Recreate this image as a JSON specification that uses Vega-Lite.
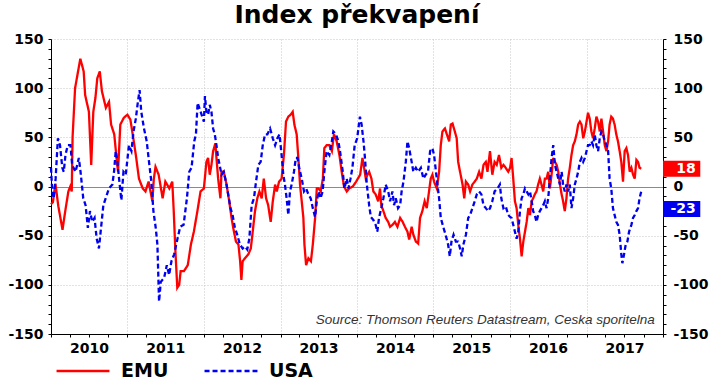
{
  "$schema": "https://vega.github.io/schema/vega-lite/v6.json",
  "width": 612,
  "height": 295,
  "autosize": {"type": "none"},
  "padding": {"left": 51, "top": 39, "right": 51, "bottom": 53},
  "background": "white",
  "title": {"text": "Index překvapení", "font": "DejaVu Sans", "fontSize": 25, "fontWeight": "bold", "color": "black", "anchor": "middle", "frame": "group", "baseline": "alphabetic", "offset": -16},
  "config": {"view": {"stroke": null}, "font": "DejaVu Sans"},
  "datasets": {
    "series": [
      {"date": "2010-01-01", "series": "EMU", "value": -18},
      {"date": "2010-01-10", "series": "EMU", "value": -16},
      {"date": "2010-01-22", "series": "EMU", "value": 3},
      {"date": "2010-02-05", "series": "EMU", "value": -20},
      {"date": "2010-02-25", "series": "EMU", "value": -44},
      {"date": "2010-03-10", "series": "EMU", "value": -25},
      {"date": "2010-03-25", "series": "EMU", "value": -5},
      {"date": "2010-04-03", "series": "EMU", "value": 0},
      {"date": "2010-04-10", "series": "EMU", "value": -5},
      {"date": "2010-04-14", "series": "EMU", "value": 50},
      {"date": "2010-04-26", "series": "EMU", "value": 100},
      {"date": "2010-05-21", "series": "EMU", "value": 130},
      {"date": "2010-06-06", "series": "EMU", "value": 117},
      {"date": "2010-06-13", "series": "EMU", "value": 93},
      {"date": "2010-07-01", "series": "EMU", "value": 76},
      {"date": "2010-07-12", "series": "EMU", "value": 22},
      {"date": "2010-07-22", "series": "EMU", "value": 76},
      {"date": "2010-08-01", "series": "EMU", "value": 90},
      {"date": "2010-08-10", "series": "EMU", "value": 110},
      {"date": "2010-08-22", "series": "EMU", "value": 117},
      {"date": "2010-09-01", "series": "EMU", "value": 97},
      {"date": "2010-09-20", "series": "EMU", "value": 80},
      {"date": "2010-10-05", "series": "EMU", "value": 86},
      {"date": "2010-10-15", "series": "EMU", "value": 63},
      {"date": "2010-10-30", "series": "EMU", "value": 53},
      {"date": "2010-11-10", "series": "EMU", "value": 29},
      {"date": "2010-11-17", "series": "EMU", "value": 15},
      {"date": "2010-11-28", "series": "EMU", "value": 63},
      {"date": "2010-12-15", "series": "EMU", "value": 70},
      {"date": "2011-01-01", "series": "EMU", "value": 73},
      {"date": "2011-01-15", "series": "EMU", "value": 68},
      {"date": "2011-01-24", "series": "EMU", "value": 56},
      {"date": "2011-02-10", "series": "EMU", "value": 32},
      {"date": "2011-02-25", "series": "EMU", "value": 8},
      {"date": "2011-03-15", "series": "EMU", "value": -2},
      {"date": "2011-03-28", "series": "EMU", "value": -5},
      {"date": "2011-04-12", "series": "EMU", "value": 5},
      {"date": "2011-04-30", "series": "EMU", "value": -15},
      {"date": "2011-05-07", "series": "EMU", "value": 8},
      {"date": "2011-05-15", "series": "EMU", "value": 20},
      {"date": "2011-05-30", "series": "EMU", "value": 12},
      {"date": "2011-06-18", "series": "EMU", "value": -12},
      {"date": "2011-07-01", "series": "EMU", "value": 5},
      {"date": "2011-07-20", "series": "EMU", "value": -2},
      {"date": "2011-08-03", "series": "EMU", "value": 5},
      {"date": "2011-08-10", "series": "EMU", "value": -25},
      {"date": "2011-08-18", "series": "EMU", "value": -66},
      {"date": "2011-08-27", "series": "EMU", "value": -103},
      {"date": "2011-09-05", "series": "EMU", "value": -100},
      {"date": "2011-09-12", "series": "EMU", "value": -86},
      {"date": "2011-09-28", "series": "EMU", "value": -86},
      {"date": "2011-10-16", "series": "EMU", "value": -80},
      {"date": "2011-10-31", "series": "EMU", "value": -59},
      {"date": "2011-11-14", "series": "EMU", "value": -46},
      {"date": "2011-12-01", "series": "EMU", "value": -25},
      {"date": "2011-12-16", "series": "EMU", "value": -5},
      {"date": "2012-01-01", "series": "EMU", "value": -2},
      {"date": "2012-01-13", "series": "EMU", "value": 25},
      {"date": "2012-01-21", "series": "EMU", "value": 29},
      {"date": "2012-01-29", "series": "EMU", "value": 12},
      {"date": "2012-02-06", "series": "EMU", "value": 22},
      {"date": "2012-02-14", "series": "EMU", "value": 36},
      {"date": "2012-02-25", "series": "EMU", "value": 44},
      {"date": "2012-03-01", "series": "EMU", "value": 29},
      {"date": "2012-03-09", "series": "EMU", "value": 8},
      {"date": "2012-03-20", "series": "EMU", "value": -12},
      {"date": "2012-03-25", "series": "EMU", "value": 15},
      {"date": "2012-04-05", "series": "EMU", "value": 15},
      {"date": "2012-04-18", "series": "EMU", "value": 2},
      {"date": "2012-05-01", "series": "EMU", "value": -15},
      {"date": "2012-05-12", "series": "EMU", "value": -32},
      {"date": "2012-05-20", "series": "EMU", "value": -42},
      {"date": "2012-06-02", "series": "EMU", "value": -56},
      {"date": "2012-06-14", "series": "EMU", "value": -59},
      {"date": "2012-06-22", "series": "EMU", "value": -76},
      {"date": "2012-06-28", "series": "EMU", "value": -95},
      {"date": "2012-07-04", "series": "EMU", "value": -76},
      {"date": "2012-07-15", "series": "EMU", "value": -73},
      {"date": "2012-07-31", "series": "EMU", "value": -69},
      {"date": "2012-08-12", "series": "EMU", "value": -63},
      {"date": "2012-08-21", "series": "EMU", "value": -46},
      {"date": "2012-09-01", "series": "EMU", "value": -25},
      {"date": "2012-09-12", "series": "EMU", "value": -12},
      {"date": "2012-09-22", "series": "EMU", "value": -5},
      {"date": "2012-10-03", "series": "EMU", "value": -12},
      {"date": "2012-10-13", "series": "EMU", "value": 8},
      {"date": "2012-10-24", "series": "EMU", "value": -12},
      {"date": "2012-11-03", "series": "EMU", "value": -19},
      {"date": "2012-11-15", "series": "EMU", "value": -36},
      {"date": "2012-11-25", "series": "EMU", "value": -15},
      {"date": "2012-12-06", "series": "EMU", "value": 2},
      {"date": "2012-12-14", "series": "EMU", "value": -5},
      {"date": "2012-12-25", "series": "EMU", "value": 5},
      {"date": "2013-01-06", "series": "EMU", "value": 8},
      {"date": "2013-01-17", "series": "EMU", "value": 32},
      {"date": "2013-01-27", "series": "EMU", "value": 66},
      {"date": "2013-02-07", "series": "EMU", "value": 71},
      {"date": "2013-02-18", "series": "EMU", "value": 73},
      {"date": "2013-02-28", "series": "EMU", "value": 76},
      {"date": "2013-03-08", "series": "EMU", "value": 63},
      {"date": "2013-03-19", "series": "EMU", "value": 53},
      {"date": "2013-03-27", "series": "EMU", "value": 29},
      {"date": "2013-04-04", "series": "EMU", "value": 2},
      {"date": "2013-04-12", "series": "EMU", "value": -15},
      {"date": "2013-04-20", "series": "EMU", "value": -32},
      {"date": "2013-04-25", "series": "EMU", "value": -59},
      {"date": "2013-05-03", "series": "EMU", "value": -80},
      {"date": "2013-05-14", "series": "EMU", "value": -73},
      {"date": "2013-05-26", "series": "EMU", "value": -76},
      {"date": "2013-06-04", "series": "EMU", "value": -59},
      {"date": "2013-06-15", "series": "EMU", "value": -32},
      {"date": "2013-06-23", "series": "EMU", "value": -2},
      {"date": "2013-07-01", "series": "EMU", "value": -2},
      {"date": "2013-07-12", "series": "EMU", "value": -5},
      {"date": "2013-07-22", "series": "EMU", "value": 8},
      {"date": "2013-07-29", "series": "EMU", "value": 39},
      {"date": "2013-08-09", "series": "EMU", "value": 42},
      {"date": "2013-08-22", "series": "EMU", "value": 42},
      {"date": "2013-09-03", "series": "EMU", "value": 36},
      {"date": "2013-09-13", "series": "EMU", "value": 53},
      {"date": "2013-09-26", "series": "EMU", "value": 46},
      {"date": "2013-10-09", "series": "EMU", "value": 32},
      {"date": "2013-10-20", "series": "EMU", "value": 15},
      {"date": "2013-10-31", "series": "EMU", "value": 0},
      {"date": "2013-11-13", "series": "EMU", "value": -5},
      {"date": "2013-11-25", "series": "EMU", "value": -2},
      {"date": "2013-12-12", "series": "EMU", "value": 0},
      {"date": "2013-12-28", "series": "EMU", "value": 5},
      {"date": "2014-01-16", "series": "EMU", "value": 12},
      {"date": "2014-01-27", "series": "EMU", "value": 29},
      {"date": "2014-02-04", "series": "EMU", "value": 19},
      {"date": "2014-02-12", "series": "EMU", "value": 8},
      {"date": "2014-02-20", "series": "EMU", "value": 12},
      {"date": "2014-02-28", "series": "EMU", "value": 15},
      {"date": "2014-03-11", "series": "EMU", "value": 8},
      {"date": "2014-03-20", "series": "EMU", "value": -5},
      {"date": "2014-03-31", "series": "EMU", "value": -8},
      {"date": "2014-04-12", "series": "EMU", "value": -15},
      {"date": "2014-04-21", "series": "EMU", "value": -2},
      {"date": "2014-04-27", "series": "EMU", "value": -19},
      {"date": "2014-05-07", "series": "EMU", "value": -25},
      {"date": "2014-05-18", "series": "EMU", "value": -32},
      {"date": "2014-05-30", "series": "EMU", "value": -36},
      {"date": "2014-06-08", "series": "EMU", "value": -41},
      {"date": "2014-06-19", "series": "EMU", "value": -39},
      {"date": "2014-07-01", "series": "EMU", "value": -36},
      {"date": "2014-07-13", "series": "EMU", "value": -41},
      {"date": "2014-07-26", "series": "EMU", "value": -32},
      {"date": "2014-08-07", "series": "EMU", "value": -36},
      {"date": "2014-08-18", "series": "EMU", "value": -41},
      {"date": "2014-08-30", "series": "EMU", "value": -46},
      {"date": "2014-09-07", "series": "EMU", "value": -54},
      {"date": "2014-09-19", "series": "EMU", "value": -41},
      {"date": "2014-09-27", "series": "EMU", "value": -49},
      {"date": "2014-10-09", "series": "EMU", "value": -56},
      {"date": "2014-10-20", "series": "EMU", "value": -58},
      {"date": "2014-10-29", "series": "EMU", "value": -32},
      {"date": "2014-11-09", "series": "EMU", "value": -25},
      {"date": "2014-11-20", "series": "EMU", "value": -15},
      {"date": "2014-11-30", "series": "EMU", "value": -22},
      {"date": "2014-12-11", "series": "EMU", "value": -5},
      {"date": "2014-12-19", "series": "EMU", "value": 8},
      {"date": "2014-12-27", "series": "EMU", "value": 12},
      {"date": "2015-01-04", "series": "EMU", "value": 5},
      {"date": "2015-01-17", "series": "EMU", "value": -2},
      {"date": "2015-01-28", "series": "EMU", "value": 15},
      {"date": "2015-02-05", "series": "EMU", "value": 42},
      {"date": "2015-02-13", "series": "EMU", "value": 56},
      {"date": "2015-02-25", "series": "EMU", "value": 59},
      {"date": "2015-03-06", "series": "EMU", "value": 53},
      {"date": "2015-03-17", "series": "EMU", "value": 46},
      {"date": "2015-03-25", "series": "EMU", "value": 63},
      {"date": "2015-04-02", "series": "EMU", "value": 64},
      {"date": "2015-04-13", "series": "EMU", "value": 56},
      {"date": "2015-04-22", "series": "EMU", "value": 49},
      {"date": "2015-04-29", "series": "EMU", "value": 25},
      {"date": "2015-05-08", "series": "EMU", "value": 15},
      {"date": "2015-05-20", "series": "EMU", "value": 2},
      {"date": "2015-05-28", "series": "EMU", "value": -12},
      {"date": "2015-06-05", "series": "EMU", "value": 5},
      {"date": "2015-06-16", "series": "EMU", "value": 2},
      {"date": "2015-06-25", "series": "EMU", "value": -5},
      {"date": "2015-07-06", "series": "EMU", "value": 2},
      {"date": "2015-07-17", "series": "EMU", "value": 5},
      {"date": "2015-07-27", "series": "EMU", "value": 8},
      {"date": "2015-08-07", "series": "EMU", "value": 15},
      {"date": "2015-08-18", "series": "EMU", "value": 8},
      {"date": "2015-08-28", "series": "EMU", "value": 22},
      {"date": "2015-09-08", "series": "EMU", "value": 25},
      {"date": "2015-09-16", "series": "EMU", "value": 15},
      {"date": "2015-09-28", "series": "EMU", "value": 36},
      {"date": "2015-10-09", "series": "EMU", "value": 12},
      {"date": "2015-10-20", "series": "EMU", "value": 25},
      {"date": "2015-10-30", "series": "EMU", "value": 22},
      {"date": "2015-11-10", "series": "EMU", "value": 32},
      {"date": "2015-11-21", "series": "EMU", "value": 19},
      {"date": "2015-12-01", "series": "EMU", "value": 22},
      {"date": "2015-12-12", "series": "EMU", "value": 19},
      {"date": "2015-12-24", "series": "EMU", "value": 15},
      {"date": "2016-01-02", "series": "EMU", "value": 19},
      {"date": "2016-01-09", "series": "EMU", "value": 29},
      {"date": "2016-01-17", "series": "EMU", "value": 8},
      {"date": "2016-01-25", "series": "EMU", "value": -15},
      {"date": "2016-02-02", "series": "EMU", "value": -22},
      {"date": "2016-02-10", "series": "EMU", "value": -39},
      {"date": "2016-02-18", "series": "EMU", "value": -53},
      {"date": "2016-02-26", "series": "EMU", "value": -71},
      {"date": "2016-03-05", "series": "EMU", "value": -56},
      {"date": "2016-03-13", "series": "EMU", "value": -46},
      {"date": "2016-03-21", "series": "EMU", "value": -36},
      {"date": "2016-03-29", "series": "EMU", "value": -22},
      {"date": "2016-04-06", "series": "EMU", "value": -29},
      {"date": "2016-04-14", "series": "EMU", "value": -15},
      {"date": "2016-04-21", "series": "EMU", "value": -12},
      {"date": "2016-04-29", "series": "EMU", "value": -8},
      {"date": "2016-05-07", "series": "EMU", "value": -5},
      {"date": "2016-05-15", "series": "EMU", "value": 2},
      {"date": "2016-05-23", "series": "EMU", "value": 8},
      {"date": "2016-05-31", "series": "EMU", "value": 2},
      {"date": "2016-06-08", "series": "EMU", "value": -5},
      {"date": "2016-06-16", "series": "EMU", "value": 8},
      {"date": "2016-06-24", "series": "EMU", "value": 8},
      {"date": "2016-07-02", "series": "EMU", "value": 15},
      {"date": "2016-07-10", "series": "EMU", "value": -2},
      {"date": "2016-07-18", "series": "EMU", "value": 12},
      {"date": "2016-07-26", "series": "EMU", "value": 29},
      {"date": "2016-08-03", "series": "EMU", "value": 25},
      {"date": "2016-08-11", "series": "EMU", "value": 22},
      {"date": "2016-08-19", "series": "EMU", "value": 15},
      {"date": "2016-08-27", "series": "EMU", "value": 2},
      {"date": "2016-09-04", "series": "EMU", "value": -8},
      {"date": "2016-09-11", "series": "EMU", "value": -15},
      {"date": "2016-09-19", "series": "EMU", "value": -25},
      {"date": "2016-09-27", "series": "EMU", "value": -12},
      {"date": "2016-10-05", "series": "EMU", "value": 8},
      {"date": "2016-10-13", "series": "EMU", "value": 19},
      {"date": "2016-10-21", "series": "EMU", "value": 32},
      {"date": "2016-10-29", "series": "EMU", "value": 42},
      {"date": "2016-11-06", "series": "EMU", "value": 46},
      {"date": "2016-11-14", "series": "EMU", "value": 53},
      {"date": "2016-11-22", "series": "EMU", "value": 63},
      {"date": "2016-11-30", "series": "EMU", "value": 66},
      {"date": "2016-12-08", "series": "EMU", "value": 63},
      {"date": "2016-12-16", "series": "EMU", "value": 49},
      {"date": "2016-12-24", "series": "EMU", "value": 56},
      {"date": "2017-01-01", "series": "EMU", "value": 66},
      {"date": "2017-01-08", "series": "EMU", "value": 75},
      {"date": "2017-01-16", "series": "EMU", "value": 69},
      {"date": "2017-01-24", "series": "EMU", "value": 56},
      {"date": "2017-02-01", "series": "EMU", "value": 49},
      {"date": "2017-02-09", "series": "EMU", "value": 59},
      {"date": "2017-02-17", "series": "EMU", "value": 71},
      {"date": "2017-02-25", "series": "EMU", "value": 66},
      {"date": "2017-03-05", "series": "EMU", "value": 56},
      {"date": "2017-03-13", "series": "EMU", "value": 69},
      {"date": "2017-03-21", "series": "EMU", "value": 56},
      {"date": "2017-03-29", "series": "EMU", "value": 42},
      {"date": "2017-04-06", "series": "EMU", "value": 36},
      {"date": "2017-04-14", "series": "EMU", "value": 46},
      {"date": "2017-04-21", "series": "EMU", "value": 63},
      {"date": "2017-04-29", "series": "EMU", "value": 71},
      {"date": "2017-05-07", "series": "EMU", "value": 69},
      {"date": "2017-05-15", "series": "EMU", "value": 63},
      {"date": "2017-05-23", "series": "EMU", "value": 53},
      {"date": "2017-05-31", "series": "EMU", "value": 46},
      {"date": "2017-06-08", "series": "EMU", "value": 36},
      {"date": "2017-06-16", "series": "EMU", "value": 25},
      {"date": "2017-06-24", "series": "EMU", "value": 5},
      {"date": "2017-07-02", "series": "EMU", "value": 36},
      {"date": "2017-07-10", "series": "EMU", "value": 39},
      {"date": "2017-07-18", "series": "EMU", "value": 32},
      {"date": "2017-07-26", "series": "EMU", "value": 15},
      {"date": "2017-08-03", "series": "EMU", "value": 19},
      {"date": "2017-08-11", "series": "EMU", "value": 12},
      {"date": "2017-08-19", "series": "EMU", "value": 8},
      {"date": "2017-08-27", "series": "EMU", "value": 27},
      {"date": "2017-09-04", "series": "EMU", "value": 25},
      {"date": "2017-09-11", "series": "EMU", "value": 19},
      {"date": "2017-09-19", "series": "EMU", "value": 18},

      {"date": "2010-01-01", "series": "USA", "value": 19},
      {"date": "2010-01-07", "series": "USA", "value": -5},
      {"date": "2010-01-14", "series": "USA", "value": -12},
      {"date": "2010-01-23", "series": "USA", "value": 8},
      {"date": "2010-02-03", "series": "USA", "value": 49},
      {"date": "2010-02-13", "series": "USA", "value": 42},
      {"date": "2010-02-24", "series": "USA", "value": 19},
      {"date": "2010-03-03", "series": "USA", "value": 15},
      {"date": "2010-03-11", "series": "USA", "value": 32},
      {"date": "2010-03-22", "series": "USA", "value": 42},
      {"date": "2010-04-04", "series": "USA", "value": 42},
      {"date": "2010-04-12", "series": "USA", "value": 22},
      {"date": "2010-04-28", "series": "USA", "value": 15},
      {"date": "2010-05-14", "series": "USA", "value": 29},
      {"date": "2010-05-22", "series": "USA", "value": 15},
      {"date": "2010-06-04", "series": "USA", "value": -12},
      {"date": "2010-06-15", "series": "USA", "value": -19},
      {"date": "2010-06-26", "series": "USA", "value": -42},
      {"date": "2010-07-06", "series": "USA", "value": -25},
      {"date": "2010-07-17", "series": "USA", "value": -36},
      {"date": "2010-07-28", "series": "USA", "value": -32},
      {"date": "2010-08-07", "series": "USA", "value": -53},
      {"date": "2010-08-18", "series": "USA", "value": -63},
      {"date": "2010-08-26", "series": "USA", "value": -46},
      {"date": "2010-09-08", "series": "USA", "value": -19},
      {"date": "2010-09-19", "series": "USA", "value": -12},
      {"date": "2010-10-05", "series": "USA", "value": -2},
      {"date": "2010-10-21", "series": "USA", "value": 2},
      {"date": "2010-10-29", "series": "USA", "value": 15},
      {"date": "2010-11-06", "series": "USA", "value": 36},
      {"date": "2010-11-14", "series": "USA", "value": 25},
      {"date": "2010-11-22", "series": "USA", "value": 8},
      {"date": "2010-12-03", "series": "USA", "value": -14},
      {"date": "2010-12-13", "series": "USA", "value": 15},
      {"date": "2010-12-24", "series": "USA", "value": 12},
      {"date": "2011-01-08", "series": "USA", "value": 42},
      {"date": "2011-01-20", "series": "USA", "value": 36},
      {"date": "2011-01-30", "series": "USA", "value": 56},
      {"date": "2011-02-10", "series": "USA", "value": 69},
      {"date": "2011-02-18", "series": "USA", "value": 83},
      {"date": "2011-02-28", "series": "USA", "value": 98},
      {"date": "2011-03-08", "series": "USA", "value": 76},
      {"date": "2011-03-21", "series": "USA", "value": 59},
      {"date": "2011-04-03", "series": "USA", "value": 46},
      {"date": "2011-04-14", "series": "USA", "value": 25},
      {"date": "2011-04-25", "series": "USA", "value": 5},
      {"date": "2011-05-05", "series": "USA", "value": -25},
      {"date": "2011-05-16", "series": "USA", "value": -42},
      {"date": "2011-05-24", "series": "USA", "value": -59},
      {"date": "2011-06-01", "series": "USA", "value": -117},
      {"date": "2011-06-09", "series": "USA", "value": -97},
      {"date": "2011-06-25", "series": "USA", "value": -93},
      {"date": "2011-07-08", "series": "USA", "value": -80},
      {"date": "2011-07-19", "series": "USA", "value": -90},
      {"date": "2011-07-30", "series": "USA", "value": -76},
      {"date": "2011-08-12", "series": "USA", "value": -69},
      {"date": "2011-08-28", "series": "USA", "value": -53},
      {"date": "2011-09-10", "series": "USA", "value": -41},
      {"date": "2011-09-26", "series": "USA", "value": -39},
      {"date": "2011-10-12", "series": "USA", "value": -12},
      {"date": "2011-10-23", "series": "USA", "value": 15},
      {"date": "2011-11-03", "series": "USA", "value": 19},
      {"date": "2011-11-16", "series": "USA", "value": 46},
      {"date": "2011-11-24", "series": "USA", "value": 53},
      {"date": "2011-12-02", "series": "USA", "value": 85},
      {"date": "2011-12-10", "series": "USA", "value": 80},
      {"date": "2011-12-21", "series": "USA", "value": 73},
      {"date": "2012-01-01", "series": "USA", "value": 66},
      {"date": "2012-01-06", "series": "USA", "value": 92},
      {"date": "2012-01-13", "series": "USA", "value": 76},
      {"date": "2012-01-21", "series": "USA", "value": 73},
      {"date": "2012-01-29", "series": "USA", "value": 83},
      {"date": "2012-02-06", "series": "USA", "value": 76},
      {"date": "2012-02-14", "series": "USA", "value": 59},
      {"date": "2012-02-22", "series": "USA", "value": 53},
      {"date": "2012-03-01", "series": "USA", "value": 42},
      {"date": "2012-03-09", "series": "USA", "value": 29},
      {"date": "2012-03-16", "series": "USA", "value": 22},
      {"date": "2012-03-25", "series": "USA", "value": 12},
      {"date": "2012-04-05", "series": "USA", "value": 15},
      {"date": "2012-04-18", "series": "USA", "value": 2},
      {"date": "2012-04-26", "series": "USA", "value": -8},
      {"date": "2012-05-07", "series": "USA", "value": -22},
      {"date": "2012-05-17", "series": "USA", "value": -29},
      {"date": "2012-05-28", "series": "USA", "value": -42},
      {"date": "2012-06-08", "series": "USA", "value": -49},
      {"date": "2012-06-21", "series": "USA", "value": -59},
      {"date": "2012-07-04", "series": "USA", "value": -63},
      {"date": "2012-07-15", "series": "USA", "value": -61},
      {"date": "2012-07-26", "series": "USA", "value": -64},
      {"date": "2012-08-05", "series": "USA", "value": -53},
      {"date": "2012-08-16", "series": "USA", "value": -19},
      {"date": "2012-08-27", "series": "USA", "value": -12},
      {"date": "2012-09-06", "series": "USA", "value": 5},
      {"date": "2012-09-17", "series": "USA", "value": 22},
      {"date": "2012-09-28", "series": "USA", "value": 25},
      {"date": "2012-10-08", "series": "USA", "value": 42},
      {"date": "2012-10-19", "series": "USA", "value": 53},
      {"date": "2012-10-30", "series": "USA", "value": 53},
      {"date": "2012-11-12", "series": "USA", "value": 59},
      {"date": "2012-11-25", "series": "USA", "value": 49},
      {"date": "2012-12-06", "series": "USA", "value": 42},
      {"date": "2012-12-17", "series": "USA", "value": 49},
      {"date": "2012-12-27", "series": "USA", "value": 53},
      {"date": "2013-01-06", "series": "USA", "value": 32},
      {"date": "2013-01-14", "series": "USA", "value": 12},
      {"date": "2013-01-22", "series": "USA", "value": 2},
      {"date": "2013-01-30", "series": "USA", "value": -12},
      {"date": "2013-02-07", "series": "USA", "value": -29},
      {"date": "2013-02-15", "series": "USA", "value": -5},
      {"date": "2013-02-23", "series": "USA", "value": 2},
      {"date": "2013-03-06", "series": "USA", "value": 15},
      {"date": "2013-03-15", "series": "USA", "value": 29},
      {"date": "2013-03-23", "series": "USA", "value": 29},
      {"date": "2013-03-31", "series": "USA", "value": 19},
      {"date": "2013-04-12", "series": "USA", "value": 8},
      {"date": "2013-04-23", "series": "USA", "value": -5},
      {"date": "2013-05-03", "series": "USA", "value": -2},
      {"date": "2013-05-14", "series": "USA", "value": -8},
      {"date": "2013-05-25", "series": "USA", "value": -12},
      {"date": "2013-06-04", "series": "USA", "value": -22},
      {"date": "2013-06-15", "series": "USA", "value": -31},
      {"date": "2013-06-23", "series": "USA", "value": -15},
      {"date": "2013-07-02", "series": "USA", "value": -5},
      {"date": "2013-07-11", "series": "USA", "value": -12},
      {"date": "2013-07-21", "series": "USA", "value": -5},
      {"date": "2013-07-29", "series": "USA", "value": 15},
      {"date": "2013-08-09", "series": "USA", "value": 36},
      {"date": "2013-08-22", "series": "USA", "value": 32},
      {"date": "2013-09-03", "series": "USA", "value": 46},
      {"date": "2013-09-10", "series": "USA", "value": 56},
      {"date": "2013-09-23", "series": "USA", "value": 53},
      {"date": "2013-10-04", "series": "USA", "value": 46},
      {"date": "2013-10-12", "series": "USA", "value": 36},
      {"date": "2013-10-25", "series": "USA", "value": 15},
      {"date": "2013-11-02", "series": "USA", "value": -2},
      {"date": "2013-11-13", "series": "USA", "value": 8},
      {"date": "2013-11-21", "series": "USA", "value": -2},
      {"date": "2013-12-01", "series": "USA", "value": 8},
      {"date": "2013-12-10", "series": "USA", "value": 19},
      {"date": "2013-12-21", "series": "USA", "value": 42},
      {"date": "2014-01-02", "series": "USA", "value": 49},
      {"date": "2014-01-10", "series": "USA", "value": 63},
      {"date": "2014-01-15", "series": "USA", "value": 71},
      {"date": "2014-01-23", "series": "USA", "value": 63},
      {"date": "2014-02-01", "series": "USA", "value": 46},
      {"date": "2014-02-08", "series": "USA", "value": 29},
      {"date": "2014-02-17", "series": "USA", "value": 2},
      {"date": "2014-02-28", "series": "USA", "value": -19},
      {"date": "2014-03-08", "series": "USA", "value": -31},
      {"date": "2014-03-20", "series": "USA", "value": -34},
      {"date": "2014-03-31", "series": "USA", "value": -39},
      {"date": "2014-04-08", "series": "USA", "value": -46},
      {"date": "2014-04-16", "series": "USA", "value": -32},
      {"date": "2014-04-27", "series": "USA", "value": -22},
      {"date": "2014-05-07", "series": "USA", "value": -12},
      {"date": "2014-05-18", "series": "USA", "value": 2},
      {"date": "2014-05-30", "series": "USA", "value": -5},
      {"date": "2014-06-08", "series": "USA", "value": -15},
      {"date": "2014-06-19", "series": "USA", "value": -5},
      {"date": "2014-06-27", "series": "USA", "value": -19},
      {"date": "2014-07-05", "series": "USA", "value": -12},
      {"date": "2014-07-16", "series": "USA", "value": -22},
      {"date": "2014-07-26", "series": "USA", "value": -19},
      {"date": "2014-08-02", "series": "USA", "value": -5},
      {"date": "2014-08-11", "series": "USA", "value": 5},
      {"date": "2014-08-22", "series": "USA", "value": 25},
      {"date": "2014-08-30", "series": "USA", "value": 46},
      {"date": "2014-09-07", "series": "USA", "value": 39},
      {"date": "2014-09-19", "series": "USA", "value": 25},
      {"date": "2014-09-27", "series": "USA", "value": 15},
      {"date": "2014-10-09", "series": "USA", "value": 19},
      {"date": "2014-10-20", "series": "USA", "value": 15},
      {"date": "2014-11-02", "series": "USA", "value": 19},
      {"date": "2014-11-14", "series": "USA", "value": 8},
      {"date": "2014-11-25", "series": "USA", "value": 12},
      {"date": "2014-12-06", "series": "USA", "value": 15},
      {"date": "2014-12-16", "series": "USA", "value": 36},
      {"date": "2014-12-27", "series": "USA", "value": 39},
      {"date": "2015-01-04", "series": "USA", "value": 32},
      {"date": "2015-01-13", "series": "USA", "value": 15},
      {"date": "2015-01-20", "series": "USA", "value": 2},
      {"date": "2015-01-28", "series": "USA", "value": -12},
      {"date": "2015-02-05", "series": "USA", "value": -32},
      {"date": "2015-02-18", "series": "USA", "value": -42},
      {"date": "2015-02-28", "series": "USA", "value": -49},
      {"date": "2015-03-12", "series": "USA", "value": -59},
      {"date": "2015-03-20", "series": "USA", "value": -71},
      {"date": "2015-03-28", "series": "USA", "value": -56},
      {"date": "2015-04-07", "series": "USA", "value": -49},
      {"date": "2015-04-18", "series": "USA", "value": -56},
      {"date": "2015-04-29", "series": "USA", "value": -56},
      {"date": "2015-05-08", "series": "USA", "value": -63},
      {"date": "2015-05-16", "series": "USA", "value": -71},
      {"date": "2015-05-24", "series": "USA", "value": -59},
      {"date": "2015-06-05", "series": "USA", "value": -49},
      {"date": "2015-06-16", "series": "USA", "value": -32},
      {"date": "2015-06-25", "series": "USA", "value": -29},
      {"date": "2015-07-06", "series": "USA", "value": -22},
      {"date": "2015-07-17", "series": "USA", "value": -15},
      {"date": "2015-07-27", "series": "USA", "value": -8},
      {"date": "2015-08-07", "series": "USA", "value": -5},
      {"date": "2015-08-18", "series": "USA", "value": -8},
      {"date": "2015-08-28", "series": "USA", "value": -19},
      {"date": "2015-09-08", "series": "USA", "value": -22},
      {"date": "2015-09-19", "series": "USA", "value": -25},
      {"date": "2015-09-28", "series": "USA", "value": -22},
      {"date": "2015-10-09", "series": "USA", "value": -15},
      {"date": "2015-10-20", "series": "USA", "value": -5},
      {"date": "2015-11-03", "series": "USA", "value": -2},
      {"date": "2015-11-14", "series": "USA", "value": 2},
      {"date": "2015-11-21", "series": "USA", "value": -12},
      {"date": "2015-12-01", "series": "USA", "value": -22},
      {"date": "2015-12-12", "series": "USA", "value": -20},
      {"date": "2015-12-24", "series": "USA", "value": -29},
      {"date": "2016-01-02", "series": "USA", "value": -31},
      {"date": "2016-01-09", "series": "USA", "value": -32},
      {"date": "2016-01-17", "series": "USA", "value": -39},
      {"date": "2016-01-25", "series": "USA", "value": -46},
      {"date": "2016-02-02", "series": "USA", "value": -53},
      {"date": "2016-02-10", "series": "USA", "value": -46},
      {"date": "2016-02-18", "series": "USA", "value": -25},
      {"date": "2016-02-26", "series": "USA", "value": -12},
      {"date": "2016-03-05", "series": "USA", "value": -8},
      {"date": "2016-03-13", "series": "USA", "value": -2},
      {"date": "2016-03-21", "series": "USA", "value": -5},
      {"date": "2016-03-29", "series": "USA", "value": -8},
      {"date": "2016-04-06", "series": "USA", "value": -5},
      {"date": "2016-04-14", "series": "USA", "value": -15},
      {"date": "2016-04-21", "series": "USA", "value": -25},
      {"date": "2016-04-29", "series": "USA", "value": -29},
      {"date": "2016-05-07", "series": "USA", "value": -36},
      {"date": "2016-05-15", "series": "USA", "value": -29},
      {"date": "2016-05-23", "series": "USA", "value": -25},
      {"date": "2016-05-31", "series": "USA", "value": -22},
      {"date": "2016-06-08", "series": "USA", "value": -19},
      {"date": "2016-06-16", "series": "USA", "value": -15},
      {"date": "2016-06-24", "series": "USA", "value": -22},
      {"date": "2016-07-02", "series": "USA", "value": -12},
      {"date": "2016-07-10", "series": "USA", "value": 8},
      {"date": "2016-07-18", "series": "USA", "value": 29},
      {"date": "2016-07-26", "series": "USA", "value": 42},
      {"date": "2016-08-03", "series": "USA", "value": 22},
      {"date": "2016-08-11", "series": "USA", "value": 15},
      {"date": "2016-08-19", "series": "USA", "value": 8},
      {"date": "2016-08-27", "series": "USA", "value": 2},
      {"date": "2016-09-04", "series": "USA", "value": 15},
      {"date": "2016-09-11", "series": "USA", "value": 2},
      {"date": "2016-09-19", "series": "USA", "value": -5},
      {"date": "2016-09-27", "series": "USA", "value": 2},
      {"date": "2016-10-05", "series": "USA", "value": -5},
      {"date": "2016-10-13", "series": "USA", "value": 2},
      {"date": "2016-10-21", "series": "USA", "value": -22},
      {"date": "2016-10-29", "series": "USA", "value": -12},
      {"date": "2016-11-06", "series": "USA", "value": 2},
      {"date": "2016-11-14", "series": "USA", "value": 8},
      {"date": "2016-11-22", "series": "USA", "value": 15},
      {"date": "2016-11-30", "series": "USA", "value": 25},
      {"date": "2016-12-08", "series": "USA", "value": 29},
      {"date": "2016-12-16", "series": "USA", "value": 25},
      {"date": "2016-12-24", "series": "USA", "value": 29},
      {"date": "2017-01-01", "series": "USA", "value": 36},
      {"date": "2017-01-08", "series": "USA", "value": 42},
      {"date": "2017-01-16", "series": "USA", "value": 42},
      {"date": "2017-01-24", "series": "USA", "value": 46},
      {"date": "2017-02-01", "series": "USA", "value": 42},
      {"date": "2017-02-09", "series": "USA", "value": 53},
      {"date": "2017-02-17", "series": "USA", "value": 42},
      {"date": "2017-02-25", "series": "USA", "value": 36},
      {"date": "2017-03-05", "series": "USA", "value": 49},
      {"date": "2017-03-13", "series": "USA", "value": 56},
      {"date": "2017-03-21", "series": "USA", "value": 53},
      {"date": "2017-03-29", "series": "USA", "value": 46},
      {"date": "2017-04-06", "series": "USA", "value": 42},
      {"date": "2017-04-14", "series": "USA", "value": 36},
      {"date": "2017-04-21", "series": "USA", "value": 8},
      {"date": "2017-04-29", "series": "USA", "value": -2},
      {"date": "2017-05-07", "series": "USA", "value": -22},
      {"date": "2017-05-15", "series": "USA", "value": -29},
      {"date": "2017-05-23", "series": "USA", "value": -36},
      {"date": "2017-05-31", "series": "USA", "value": -39},
      {"date": "2017-06-08", "series": "USA", "value": -49},
      {"date": "2017-06-16", "series": "USA", "value": -69},
      {"date": "2017-06-21", "series": "USA", "value": -78},
      {"date": "2017-06-29", "series": "USA", "value": -69},
      {"date": "2017-07-07", "series": "USA", "value": -59},
      {"date": "2017-07-15", "series": "USA", "value": -56},
      {"date": "2017-07-23", "series": "USA", "value": -46},
      {"date": "2017-08-03", "series": "USA", "value": -39},
      {"date": "2017-08-11", "series": "USA", "value": -32},
      {"date": "2017-08-19", "series": "USA", "value": -29},
      {"date": "2017-08-27", "series": "USA", "value": -25},
      {"date": "2017-09-04", "series": "USA", "value": -22},
      {"date": "2017-09-11", "series": "USA", "value": -12},
      {"date": "2017-09-19", "series": "USA", "value": -5}
    ],
    "last": [
      {"series": "EMU", "last": 18},
      {"series": "USA", "last": -23}
    ],
    "notes": [
      {"note": "Source: Thomson Reuters Datastream, Ceska sporitelna"}
    ]
  },
  "layer": [
    {
      "data": {"name": "series"},
      "mark": {"type": "line", "strokeWidth": 2.3},
      "encoding": {
        "x": {
          "field": "date", "type": "temporal",
          "scale": {"type": "utc", "domain": [{"year": 2010, "month": 1, "date": 1, "utc": true}, {"year": 2018, "month": 1, "date": 1, "utc": true}]},
          "axis": {
            "orient": "bottom", "title": null,
            "values": [
              {"year": 2010, "month": 1, "date": 1, "utc": true}, {"year": 2010, "month": 4, "date": 1, "utc": true}, {"year": 2010, "month": 7, "date": 1, "utc": true}, {"year": 2010, "month": 10, "date": 1, "utc": true},
              {"year": 2011, "month": 1, "date": 1, "utc": true}, {"year": 2011, "month": 4, "date": 1, "utc": true}, {"year": 2011, "month": 7, "date": 1, "utc": true}, {"year": 2011, "month": 10, "date": 1, "utc": true},
              {"year": 2012, "month": 1, "date": 1, "utc": true}, {"year": 2012, "month": 4, "date": 1, "utc": true}, {"year": 2012, "month": 7, "date": 1, "utc": true}, {"year": 2012, "month": 10, "date": 1, "utc": true},
              {"year": 2013, "month": 1, "date": 1, "utc": true}, {"year": 2013, "month": 4, "date": 1, "utc": true}, {"year": 2013, "month": 7, "date": 1, "utc": true}, {"year": 2013, "month": 10, "date": 1, "utc": true},
              {"year": 2014, "month": 1, "date": 1, "utc": true}, {"year": 2014, "month": 4, "date": 1, "utc": true}, {"year": 2014, "month": 7, "date": 1, "utc": true}, {"year": 2014, "month": 10, "date": 1, "utc": true},
              {"year": 2015, "month": 1, "date": 1, "utc": true}, {"year": 2015, "month": 4, "date": 1, "utc": true}, {"year": 2015, "month": 7, "date": 1, "utc": true}, {"year": 2015, "month": 10, "date": 1, "utc": true},
              {"year": 2016, "month": 1, "date": 1, "utc": true}, {"year": 2016, "month": 4, "date": 1, "utc": true}, {"year": 2016, "month": 7, "date": 1, "utc": true}, {"year": 2016, "month": 10, "date": 1, "utc": true},
              {"year": 2017, "month": 1, "date": 1, "utc": true}, {"year": 2017, "month": 4, "date": 1, "utc": true}, {"year": 2017, "month": 7, "date": 1, "utc": true}, {"year": 2017, "month": 10, "date": 1, "utc": true},
              {"year": 2018, "month": 1, "date": 1, "utc": true}
            ],
            "labelExpr": "utcFormat(datum.value, '%m') == '07' ? utcFormat(datum.value, '%Y') : ''",
            "grid": true, "gridColor": "#c4c4c4", "gridDash": [1, 2],
            "gridOpacity": {"condition": {"test": "utcFormat(datum.value, '%m') == '01'", "value": 1}, "value": 0},
            "tickSize": 3, "tickColor": "black", "domainColor": "black",
            "labelFont": "DejaVu Sans", "labelFontWeight": "bold", "labelFontSize": 14, "labelColor": "black", "labelPadding": 4
          }
        },
        "y": {
          "field": "value", "type": "quantitative",
          "scale": {"domain": [-150, 150], "nice": false},
          "axis": {
            "orient": "left", "title": null,
            "values": [-150, -140, -130, -120, -110, -100, -90, -80, -70, -60, -50, -40, -30, -20, -10, 0, 10, 20, 30, 40, 50, 60, 70, 80, 90, 100, 110, 120, 130, 140, 150],
            "labelExpr": "datum.value % 50 == 0 ? '' + datum.value : ''",
            "labelOverlap": false,
            "grid": true,
            "gridColor": {"condition": {"test": "datum.value == 0", "value": "#8a8a8a"}, "value": "#c4c4c4"},
            "gridDash": {"condition": {"test": "datum.value == 0", "value": []}, "value": [1, 2]},
            "gridOpacity": {"condition": {"test": "datum.value % 50 == 0", "value": 1}, "value": 0},
            "tickSize": 3, "tickColor": "black", "domainColor": "black",
            "labelFont": "DejaVu Sans", "labelFontWeight": "bold", "labelFontSize": 14, "labelColor": "black", "labelPadding": 5
          }
        },
        "color": {
          "field": "series", "type": "nominal",
          "scale": {"domain": ["EMU", "USA"], "range": ["#ff0000", "#0000f0"]},
          "legend": {"title": null, "orient": "none", "legendX": 4, "legendY": 304, "direction": "horizontal", "symbolType": "stroke", "symbolSize": 2800, "symbolStrokeWidth": 2.5, "labelFont": "DejaVu Sans", "labelFontSize": 19, "labelFontWeight": "bold", "labelColor": "black", "labelOffset": 10, "columnPadding": 30}
        },
        "strokeDash": {
          "field": "series", "type": "nominal",
          "scale": {"domain": ["EMU", "USA"], "range": [[1, 0], [5, 3]]},
          "legend": {"title": null, "orient": "none", "legendX": 4, "legendY": 304, "direction": "horizontal", "symbolType": "stroke", "symbolSize": 2800, "symbolStrokeWidth": 2.5, "labelFont": "DejaVu Sans", "labelFontSize": 19, "labelFontWeight": "bold", "labelColor": "black", "labelOffset": 10, "columnPadding": 30}
        }
      }
    },
    {
      "data": {"name": "last"},
      "mark": {"type": "rect", "yOffset": -8, "y2Offset": 8},
      "encoding": {
        "x": {"datum": {"year": 2018, "month": 1, "date": 1, "utc": true}, "type": "temporal", "scale": {"type": "utc", "domain": [{"year": 2010, "month": 1, "date": 1, "utc": true}, {"year": 2018, "month": 1, "date": 1, "utc": true}]}, "axis": null},
        "x2": {"datum": {"year": 2018, "month": 6, "date": 28, "utc": true}},
        "y": {
          "field": "last", "type": "quantitative",
          "scale": {"domain": [-150, 150], "nice": false},
          "axis": {
            "orient": "right", "title": null,
            "values": [-150, -140, -130, -120, -110, -100, -90, -80, -70, -60, -50, -40, -30, -20, -10, 0, 10, 20, 30, 40, 50, 60, 70, 80, 90, 100, 110, 120, 130, 140, 150],
            "labelExpr": "datum.value % 50 == 0 ? '' + datum.value : ''",
            "labelOverlap": false, "grid": false,
            "tickSize": 3, "tickColor": "black", "domainColor": "black",
            "labelFont": "DejaVu Sans", "labelFontWeight": "bold", "labelFontSize": 14, "labelColor": "black", "labelPadding": 7
          }
        },
        "y2": {"field": "last"},
        "color": {"field": "series", "type": "nominal", "legend": null}
      }
    },
    {
      "data": {"name": "last"},
      "mark": {"type": "text", "align": "right", "baseline": "middle", "font": "DejaVu Sans", "fontWeight": "bold", "fontSize": 14, "color": "white"},
      "encoding": {
        "x": {"datum": {"year": 2018, "month": 6, "date": 6, "utc": true}, "type": "temporal", "scale": {"type": "utc", "domain": [{"year": 2010, "month": 1, "date": 1, "utc": true}, {"year": 2018, "month": 1, "date": 1, "utc": true}]}, "axis": null},
        "y": {"field": "last", "type": "quantitative", "scale": {"domain": [-150, 150], "nice": false}, "axis": null},
        "text": {"field": "last", "type": "nominal"}
      }
    },
    {
      "data": {"name": "notes"},
      "mark": {"type": "text", "align": "right", "baseline": "middle", "font": "Liberation Sans", "fontStyle": "italic", "fontSize": 13.5, "color": "#333333"},
      "encoding": {
        "x": {"datum": {"year": 2017, "month": 11, "date": 23, "utc": true}, "type": "temporal", "scale": {"type": "utc", "domain": [{"year": 2010, "month": 1, "date": 1, "utc": true}, {"year": 2018, "month": 1, "date": 1, "utc": true}]}, "axis": null},
        "y": {"datum": -136, "type": "quantitative", "scale": {"domain": [-150, 150], "nice": false}, "axis": null},
        "text": {"field": "note"}
      }
    }
  ],
  "resolve": {"scale": {"y": "independent"}, "axis": {"x": "independent"}}
}
